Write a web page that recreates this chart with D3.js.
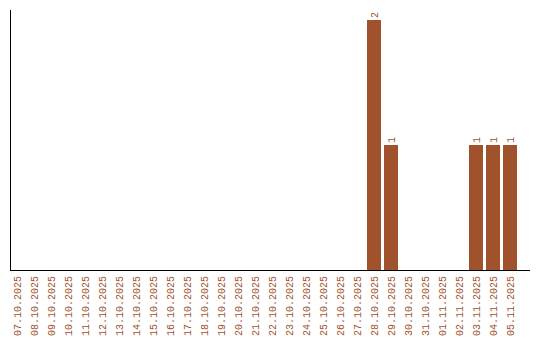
<!DOCTYPE html>
<html><head><meta charset="utf-8">
<script src="https://cdn.jsdelivr.net/npm/d3@7"></script>
<style>
html,body{margin:0;padding:0;background:#fff;}
svg{display:block;}
text{font-family:"Liberation Mono",monospace;font-size:10px;fill:#a0522d;}
</style></head><body>
<script>
const dates = ["07.10.2025","08.10.2025","09.10.2025","10.10.2025","11.10.2025","12.10.2025","13.10.2025","14.10.2025","15.10.2025","16.10.2025","17.10.2025","18.10.2025","19.10.2025","20.10.2025","21.10.2025","22.10.2025","23.10.2025","24.10.2025","25.10.2025","26.10.2025","27.10.2025","28.10.2025","29.10.2025","30.10.2025","31.10.2025","01.11.2025","02.11.2025","03.11.2025","04.11.2025","05.11.2025"];
const counts = [0,0,0,0,0,0,0,0,0,0,0,0,0,0,0,0,0,0,0,0,0,2,1,0,0,0,0,1,1,1];
const barColor = "#a0522d";

const W = 540, H = 340;
const svg = d3.select("body").append("svg").attr("width", W).attr("height", H);

const x = d3.scaleBand().domain(dates).range([10, 517]).paddingInner(3/17).paddingOuter(0);
const y = d3.scaleLinear().domain([0, 2]).range([270, 20]);

const data = dates.map((d, i) => ({date: d, v: counts[i]}));

svg.append("g").selectAll("rect").data(data.filter(d => d.v > 0)).join("rect")
  .attr("x", d => x(d.date)).attr("width", x.bandwidth())
  .attr("y", d => y(d.v)).attr("height", d => y(0) - y(d.v))
  .attr("fill", barColor);

svg.append("g").selectAll("text").data(data.filter(d => d.v > 0)).join("text")
  .attr("transform", d => `translate(${x(d.date) + x.bandwidth()/2 + 3.5},${y(d.v) - 2}) rotate(-90)`)
  .attr("text-anchor", "start")
  .text(d => d.v);

// axes lines
svg.append("line").attr("x1", 10.5).attr("x2", 10.5).attr("y1", 10).attr("y2", 270.5)
  .attr("stroke", "#000").attr("stroke-width", 1);
svg.append("line").attr("x1", 10).attr("x2", 530).attr("y1", 270.5).attr("y2", 270.5)
  .attr("stroke", "#000").attr("stroke-width", 1);

// tick labels
svg.append("g").selectAll("text").data(dates).join("text")
  .attr("transform", d => `translate(${x(d) + x.bandwidth()/2 + 3.5},276) rotate(-90)`)
  .attr("text-anchor", "end")
  .text(d => d);
</script>
</body></html>
